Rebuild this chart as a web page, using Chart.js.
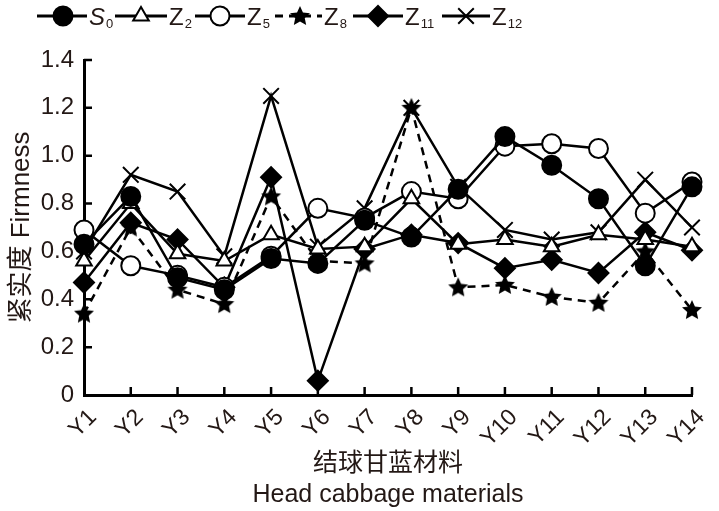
<!DOCTYPE html>
<html>
<head>
<meta charset="utf-8">
<script src="https://cdn.jsdelivr.net/npm/chart.js@4/dist/chart.umd.min.js"></script>
<style>
  html, body { margin: 0; padding: 0; background: #fff; }
  #wrap { width: 719px; height: 511px; }
</style>
</head>
<body>
<div id="wrap"><canvas id="chart" width="719" height="511"></canvas></div>
<script>
// =======================
// Data
// =======================
const categories = ["Y1", "Y2", "Y3", "Y4", "Y5", "Y6", "Y7", "Y8", "Y9", "Y10", "Y11", "Y12", "Y13", "Y14"];
const s0Values  = [0.63, 0.83, 0.49, 0.44, 0.57, 0.55, 0.73, 0.66, 0.86, 1.08, 0.96, 0.82, 0.54, 0.87];
const z2Values  = [0.56, 0.80, 0.59, 0.56, 0.67, 0.61, 0.62, 0.82, 0.63, 0.65, 0.62, 0.67, 0.65, 0.62];
const z5Values  = [0.69, 0.54, 0.50, 0.45, 0.58, 0.78, 0.74, 0.85, 0.82, 1.04, 1.05, 1.03, 0.76, 0.89];
const z8Values  = [0.34, 0.70, 0.44, 0.38, 0.83, 0.56, 0.55, 1.20, 0.45, 0.46, 0.41, 0.385, 0.60, 0.355];
const z11Values = [0.47, 0.72, 0.65, 0.45, 0.91, 0.06, 0.61, 0.67, 0.635, 0.53, 0.565, 0.51, 0.68, 0.605];
const z12Values = [0.60, 0.92, 0.85, 0.58, 1.25, 0.62, 0.78, 1.20, 0.87, 0.69, 0.65, 0.68, 0.90, 0.70];
const yTicks = [0, 0.2, 0.4, 0.6, 0.8, 1.0, 1.2, 1.4];

const INK = "#231815";
const FONT = "'Liberation Sans', Arial, 'Noto Sans CJK SC', sans-serif";

// filled star marker for Z8
function makeStar() {
    const c = document.createElement("canvas");
    c.width = 22; c.height = 22;
    const g = c.getContext("2d");
    g.fillStyle = "#000";
    g.beginPath();
    for (let i = 0; i < 10; i++) {
        const r = i % 2 === 0 ? 10.5 : 5;
        const a = -Math.PI / 2 + i * Math.PI / 5;
        const px = 11 + r * Math.cos(a), py = 11.5 + r * Math.sin(a);
        i === 0 ? g.moveTo(px, py) : g.lineTo(px, py);
    }
    g.closePath();
    g.fill();
    return c;
}
const starImg = makeStar();

function series(label, data, style, filled, radius, extra) {
    return Object.assign({
        label: label,
        data: data,
        borderColor: "#000",
        borderWidth: 2.5,
        pointStyle: style,
        pointRadius: radius,
        pointBorderWidth: 2,
        pointBorderColor: "#000",
        pointBackgroundColor: filled ? "#000" : "#fff",
        tension: 0,
        clip: false,
        fill: false
    }, extra || {});
}

const datasets = [
    series("S0", s0Values, "circle", true, 9.5),
    series("Z2", z2Values, "triangle", false, 9),
    series("Z5", z5Values, "circle", false, 9.5),
    series("Z8", z8Values, starImg, true, 10, { borderDash: [8, 6] }),
    series("Z11", z11Values, "rectRot", true, 10),
    series("Z12", z12Values, "crossRot", false, 11)
];

// =======================
// Legend: line through marker, subscripted names
// =======================
const legendItems = [
    { x0: 37,  x1: 87,  mark: 63,  text: "S", sub: "0" },
    { x0: 115, x1: 167, mark: 141, text: "Z", sub: "2" },
    { x0: 195, x1: 245, mark: 220, text: "Z", sub: "5" },
    { x0: 275, x1: 322, mark: 300, text: "Z", sub: "8" },
    { x0: 353, x1: 403, mark: 378, text: "Z", sub: "11" },
    { x0: 442, x1: 490, mark: 466, text: "Z", sub: "12" }
];

const lineLegend = {
    id: "lineLegend",
    afterDraw(chart) {
        const ctx = chart.ctx;
        const y = 16;
        ctx.save();
        chart.data.datasets.forEach((ds, i) => {
            const it = legendItems[i];
            ctx.strokeStyle = "#000";
            ctx.lineWidth = 3;
            ctx.setLineDash(ds.borderDash || []);
            ctx.beginPath();
            ctx.moveTo(it.x0, y);
            ctx.lineTo(it.x1, y);
            ctx.stroke();
            ctx.setLineDash([]);
            ctx.fillStyle = ds.pointBackgroundColor;
            ctx.strokeStyle = "#000";
            ctx.lineWidth = 2;
            Chart.helpers.drawPoint(ctx, {
                pointStyle: ds.pointStyle,
                radius: ds.pointRadius,
                borderWidth: 2,
                rotation: 0
            }, it.mark, y);
            ctx.fillStyle = INK;
            ctx.textBaseline = "alphabetic";
            ctx.textAlign = "left";
            ctx.font = (it.text === "S" ? "italic " : "") + "24px " + FONT;
            ctx.fillText(it.text, it.x1 + 2, y + 9);
            const w = ctx.measureText(it.text).width;
            ctx.font = "13px " + FONT;
            ctx.fillText(it.sub, it.x1 + 2 + w + 1, y + 12);
        });
        ctx.restore();
    }
};

// inward tick marks on both axes
const innerTicks = {
    id: "innerTicks",
    afterDatasetsDraw(chart) {
        const ctx = chart.ctx;
        const xs = chart.scales.x, ys = chart.scales.y;
        const area = chart.chartArea;
        ctx.save();
        ctx.strokeStyle = "#000";
        ctx.lineWidth = 2.5;
        ctx.beginPath();
        ys.ticks.forEach((t, i) => {
            if (i === 0) return;
            const py = ys.getPixelForTick(i);
            ctx.moveTo(area.left, py);
            ctx.lineTo(area.left + 8, py);
        });
        categories.forEach((c, i) => {
            if (i === 0) return;
            const px = xs.getPixelForTick(i);
            ctx.moveTo(px, area.bottom);
            ctx.lineTo(px, area.bottom - 8);
        });
        ctx.stroke();
        ctx.restore();
    }
};

new Chart(document.getElementById("chart"), {
    type: "line",
    data: { labels: categories, datasets: datasets },
    options: {
        responsive: false,
        animation: false,
        devicePixelRatio: 1,
        layout: { padding: { top: 60, right: 27, left: 0, bottom: 0 } },
        plugins: {
            legend: { display: false },
            tooltip: { enabled: false }
        },
        scales: {
            x: {
                offset: false,
                grid: { display: false, drawTicks: false },
                border: { display: true, color: "#000", width: 3 },
                ticks: {
                    color: INK,
                    font: { family: FONT, size: 23 },
                    minRotation: 45,
                    maxRotation: 45,
                    padding: 9,
                    labelOffset: 9,
                    autoSkip: false
                },
                title: {
                    display: true,
                    text: ["结球甘蓝材料", "Head cabbage materials"],
                    color: INK,
                    font: { family: FONT, size: 25, lineHeight: 1.25 },
                    padding: { top: 0, bottom: 0 }
                },
                afterFit: s => { s.height = 116; s.paddingLeft = 0; s.paddingRight = 0; }
            },
            y: {
                min: 0,
                max: 1.4,
                afterBuildTicks: s => { s.ticks = yTicks.map(v => ({ value: v })); },
                grid: { display: false, drawTicks: false },
                border: { display: true, color: "#000", width: 3 },
                ticks: {
                    color: INK,
                    font: { family: FONT, size: 24 },
                    padding: 10,
                    callback: v => v === 0 ? "0" : Number(v).toFixed(1)
                },
                title: {
                    display: true,
                    text: "紧实度 Firmness",
                    color: INK,
                    font: { family: FONT, size: 26 },
                    padding: { top: 6, bottom: 0 }
                },
                afterFit: s => { s.width = 84; }
            }
        }
    },
    plugins: [innerTicks, lineLegend]
});
</script>
</body>
</html>
